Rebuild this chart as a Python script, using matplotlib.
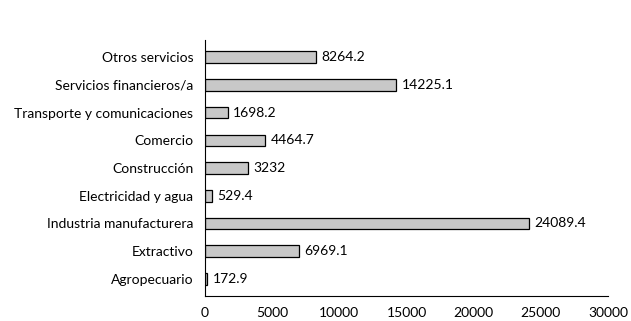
import matplotlib.pyplot as plt

# Data
sectors = ['Agropecuario', 'Extractivo', 'Industria manufacturera', 'Electricidad y agua',
           'Construcción', 'Comercio', 'Transporte y comunicaciones',
           'Servicios financieros/a', 'Otros servicios']
values = [172.9, 6969.1, 24089.4, 529.4, 3232, 4464.7, 1698.2, 14225.1, 8264.2]
value_labels = ['172.9', '6969.1', '24089.4', '529.4', '3232', '4464.7', '1698.2', '14225.1', '8264.2']
xticks = [0, 5000, 10000, 15000, 20000, 25000, 30000]

plt.rcParams['font.family'] = ['Lato', 'DejaVu Sans']

fig = plt.figure(figsize=(6.31, 3.21), dpi=100)
ax = fig.add_axes([0.325, 0.078, 0.6385, 0.797])

pos = range(len(sectors))
ax.barh(pos, values, height=0.42, color='#c8c8c8', edgecolor='black', linewidth=0.9)
for p, v, lab in zip(pos, values, value_labels):
    ax.text(v + 400, p, lab, va='center', ha='left', fontsize=10)

ax.set_yticks(list(pos))
ax.set_yticklabels(sectors, fontsize=10)
ax.set_xticks(xticks)
ax.set_xticklabels([str(t) for t in xticks], fontsize=10)
ax.set_xlim(0, 30000)
ax.set_ylim(-0.62, 8.62)

ax.spines['top'].set_visible(False)
ax.spines['right'].set_visible(False)
ax.tick_params(axis='x', length=0, pad=8)
ax.tick_params(axis='y', length=0, pad=8.5)

plt.savefig('out.png', dpi=100)
